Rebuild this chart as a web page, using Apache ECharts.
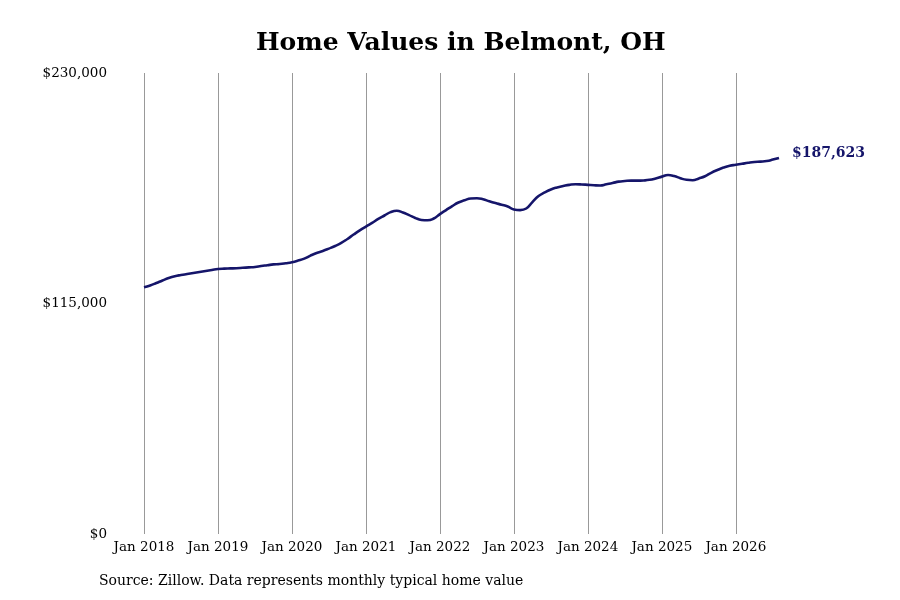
<!DOCTYPE html>
<html>
<head>
<meta charset="utf-8">
<title>Home Values in Belmont, OH</title>
<script src="https://cdn.jsdelivr.net/npm/echarts@6/dist/echarts.min.js"></script>
<style>
  html, body { margin: 0; padding: 0; background: #fff; }
  #chart { width: 900px; height: 600px; }
</style>
</head>
<body>
<div id="chart"></div>
<script>
// monthly typical home value, Jan of each year through the last month shown
var values2018 = [123100, 124000, 125200, 126500, 127700, 128600, 129200, 129700, 130200, 130700, 131200, 131700];
var values2019 = [132200, 132400, 132500, 132600, 132800, 133000, 133200, 133700, 134100, 134500, 134700, 135100];
var values2020 = [135600, 136400, 137400, 138900, 140200, 141200, 142400, 143700, 145200, 147200, 149400, 151500];
var values2021 = [153400, 155200, 157200, 158900, 160600, 161300, 160400, 159100, 157700, 156700, 156500, 157400];
var values2022 = [159600, 161600, 163600, 165400, 166500, 167400, 167500, 167000, 166000, 165100, 164300, 163400];
var values2023 = [161900, 161600, 162400, 165600, 168600, 170400, 171900, 172900, 173600, 174200, 174500, 174400];
var values2024 = [174200, 174000, 173900, 174500, 175100, 175800, 176100, 176300, 176300, 176400, 176700, 177400];
var values2025 = [178300, 179100, 178600, 177500, 176700, 176500, 177400, 178500, 180200, 181600, 182800, 183700];
var values2026 = [184200, 184700, 185200, 185600, 185800, 186100, 186800, 187623];

var years = [2018, 2019, 2020, 2021, 2022, 2023, 2024, 2025, 2026];
var monthNames = ['Jan', 'Feb', 'Mar', 'Apr', 'May', 'Jun', 'Jul', 'Aug', 'Sep', 'Oct', 'Nov', 'Dec'];
var yTicks = [0, 115000, 230000];

var values = [].concat(values2018, values2019, values2020, values2021, values2022,
                       values2023, values2024, values2025, values2026);

// one category per month
var categories = [];
years.forEach(function (y) {
  monthNames.forEach(function (m) { categories.push(m + ' ' + y); });
});
categories = categories.slice(0, values.length);

var serif = '"DejaVu Serif", serif';
var navy = '#15156a';

var myChart = echarts.init(document.getElementById('chart'));

var option = {
  backgroundColor: '#ffffff',
  animation: false,
  title: {
    text: 'Home Values in Belmont, OH',
    left: 251,
    top: 26,
    textStyle: { fontFamily: serif, fontWeight: 'bold', fontSize: 25, color: '#000' }
  },
  grid: { left: 144, right: 121, top: 73, bottom: 66 },
  xAxis: {
    type: 'category',
    data: categories,
    boundaryGap: false,
    axisLine: { show: false },
    axisTick: { show: false },
    axisLabel: {
      interval: function (i) { return i % 12 === 0; },
      fontFamily: serif,
      fontSize: 13.5,
      color: '#000',
      margin: 6
    },
    splitLine: {
      show: true,
      interval: function (i) { return i % 12 === 0; },
      lineStyle: { color: '#999', width: 1 }
    }
  },
  yAxis: {
    type: 'value',
    min: yTicks[0],
    max: yTicks[2],
    interval: yTicks[1],
    axisLine: { show: false },
    axisTick: { show: false },
    splitLine: { show: false },
    axisLabel: {
      fontFamily: serif,
      fontSize: 13.5,
      color: '#000',
      margin: 37,
      formatter: function (v) { return '$' + v.toLocaleString('en-US'); }
    }
  },
  series: [{
    type: 'line',
    data: values,
    smooth: true,
    showSymbol: false,
    lineStyle: { color: navy, width: 2.6 },
    endLabel: {
      show: true,
      distance: 13,
      fontFamily: serif,
      fontWeight: 'bold',
      fontSize: 14,
      color: navy,
      offset: [0, -5],
      formatter: function (p) { return '$' + p.value.toLocaleString('en-US'); }
    }
  }],
  graphic: [{
    type: 'text',
    left: 99,
    top: 574,
    style: {
      text: 'Source: Zillow. Data represents monthly typical home value',
      font: '14px ' + serif,
      fill: '#000'
    }
  }]
};

myChart.setOption(option);
</script>
</body>
</html>
